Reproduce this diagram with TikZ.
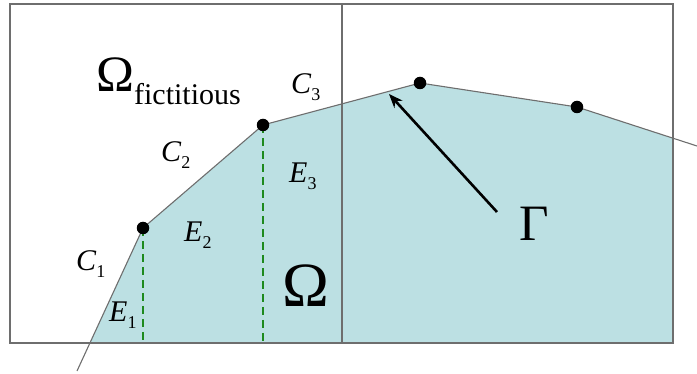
\documentclass[tikz,border=0pt]{standalone}
\usepackage{fontspec}
\setmainfont{Liberation Serif}
\usetikzlibrary{arrows.meta}
\definecolor{fillteal}{HTML}{BCE0E3}
\definecolor{edgegray}{HTML}{6E6E6E}
\definecolor{dashgreen}{HTML}{1E8A1E}
\newcommand\mylab[2]{\textit{#1}\raisebox{-7pt}{\fontsize{18}{18}\selectfont #2}}
\begin{document}
\begin{tikzpicture}[x=1pt,y=-1pt,
  dot/.style={circle,fill=black,inner sep=0pt,minimum size=12.5pt},
  edge/.style={draw=edgegray,line width=1.1pt},
  lbl/.style={anchor=base west,inner sep=0pt,font=\fontsize{30}{30}\selectfont},
  dashln/.style={draw=dashgreen,dashed,dash pattern=on 8pt off 5pt,line width=2.8pt}]
\useasboundingbox (0,0) rectangle (697,374);
\coordinate (S) at (77,371);
\coordinate (B) at (90,343);
\coordinate (P1) at (143,228);
\coordinate (P2) at (263,125);
\coordinate (P3) at (420,83);
\coordinate (P4) at (577,107);
\coordinate (R) at (673,138.2);
\coordinate (E) at (697,146);
\coordinate (BR) at (673,343);
\coordinate (TL) at (10,4);
\coordinate (MT) at (342,4);
\coordinate (MB) at (342,343);
\coordinate (D1) at (143,343);
\coordinate (D2) at (263,343);
% fill
\fill[fillteal] (B) -- (P1) -- (P2) -- (P3) -- (P4) -- (R) -- (BR) -- cycle;
% box
\draw[edge] (TL) rectangle (BR);
\draw[edge] (MT) -- (MB);
% dashed
\draw[dashln] (P1) -- (D1);
\draw[dashln] (P2) -- (D2);
% curve
\draw[edge] (S) -- (P1) -- (P2) -- (P3) -- (P4) -- (E);
% dots
\node[dot] (d1) at (P1) {};
\node[dot] (d2) at (P2) {};
\node[dot] (d3) at (P3) {};
\node[dot] (d4) at (P4) {};
% labels
\node[lbl] (omf) at (96,92) {\fontsize{51}{51}\selectfont Ω\raisebox{-13pt}{\fontsize{30}{30}\selectfont fictitious}};
\node[lbl] (c3) at (291,94) {\mylab{C}{3}};
\node[lbl] (c2) at (161,162) {\mylab{C}{2}};
\node[lbl] (e3) at (289,183) {\mylab{E}{3}};
\node[lbl] (e2) at (184,242) {\mylab{E}{2}};
\node[lbl] (c1) at (76,271) {\mylab{C}{1}};
\node[lbl] (e1) at (109,322) {\mylab{E}{1}};
\node[lbl] (om) at (282,307) {\fontsize{63}{63}\selectfont Ω};
\node[lbl] (gam) at (519,241) {\fontsize{51}{51}\selectfont Γ};
% arrow
\coordinate (AT) at (497,212);
\coordinate (AH) at (389,94);
\draw[line width=2.6pt,-{Stealth[length=14pt,width=11pt]}] (AT) -- (AH);
\end{tikzpicture}
\end{document}
